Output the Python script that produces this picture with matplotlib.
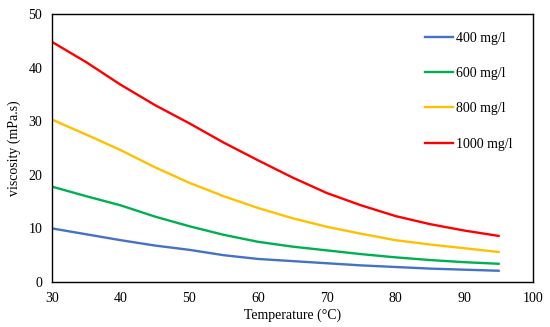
import matplotlib
matplotlib.use('Agg')
import matplotlib.pyplot as plt

# data (viscosity vs temperature)
temp = [30, 35, 40, 45, 50, 55, 60, 65, 70, 75, 80, 85, 90, 95]
visc_400 = [10.0, 8.9, 7.8, 6.8, 6.0, 5.0, 4.3, 3.9, 3.5, 3.1, 2.8, 2.5, 2.3, 2.1]
visc_600 = [17.8, 16.0, 14.3, 12.2, 10.4, 8.8, 7.5, 6.6, 5.9, 5.2, 4.6, 4.1, 3.7, 3.4]
visc_800 = [30.3, 27.5, 24.6, 21.4, 18.5, 16.0, 13.8, 11.9, 10.3, 9.0, 7.8, 7.0, 6.3, 5.6]
visc_1000 = [44.8, 41.0, 36.8, 33.0, 29.6, 26.0, 22.7, 19.5, 16.6, 14.3, 12.3, 10.8, 9.6, 8.6]
labels = ['400 mg/l', '600 mg/l', '800 mg/l', '1000 mg/l']
x_ticks = [30, 40, 50, 60, 70, 80, 90, 100]
y_ticks = [0, 10, 20, 30, 40, 50]

plt.rcParams['font.family'] = ['Liberation Serif', 'DejaVu Serif']
plt.rcParams['font.size'] = 10

fig = plt.figure(figsize=(5.5, 3.27), dpi=100)
ax = fig.add_axes([0.0945, 0.1376, 0.8745, 0.8196])

colors = ['#4472C4', '#00B050', '#FFC000', '#FF0000']
for ys, lab, c in zip([visc_400, visc_600, visc_800, visc_1000], labels, colors):
    ax.plot(temp, ys, color=c, lw=1.7, label=lab)

ax.set_xlim(30, 100)
ax.set_ylim(0, 50)
ax.set_xticks(x_ticks)
ax.set_yticks(y_ticks)
ax.tick_params(length=0, pad=7)
for s in ax.spines.values():
    s.set_color('black')
    s.set_linewidth(1.0)

ax.set_xlabel('Temperature (°C)', labelpad=3)
ax.set_ylabel('viscosity (mPa.s)', labelpad=5)

ax.legend(loc='upper left', bbox_to_anchor=(0.75, 0.98), frameon=False,
          labelspacing=1.6, handlelength=2.0, handletextpad=0.2)

fig.savefig('out.png', dpi=100)
